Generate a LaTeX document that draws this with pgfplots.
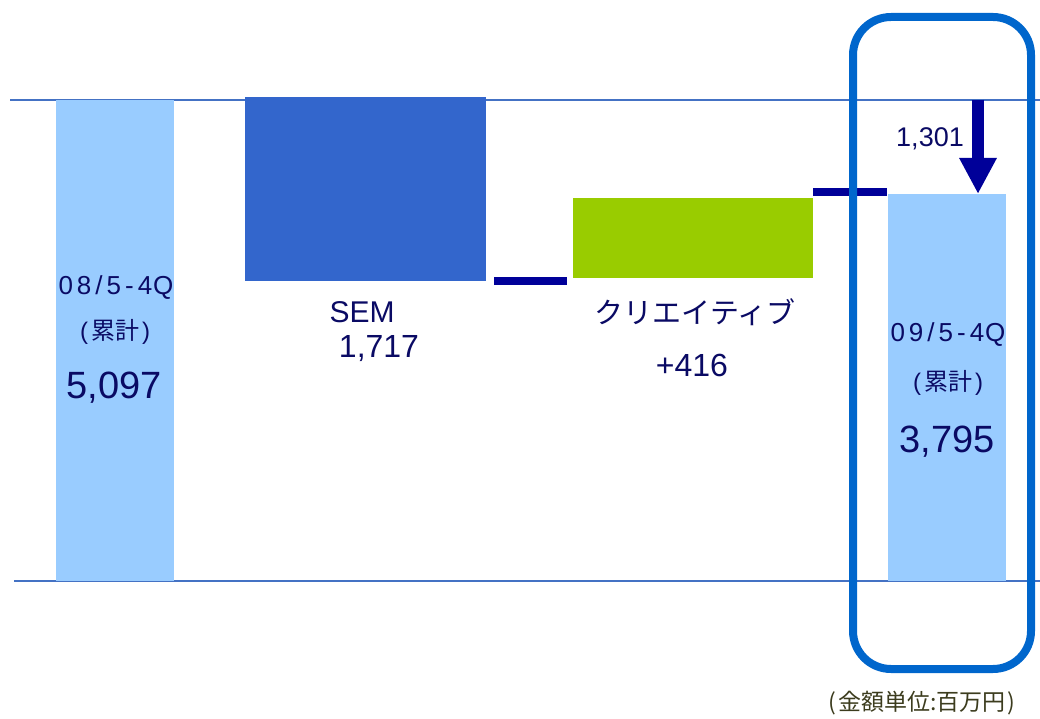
\documentclass[border=0pt]{standalone}
\usepackage{pgfplots}
\pgfplotsset{compat=1.18}
\usepackage{fontspec}
\setmainfont{Liberation Sans}
\newfontfamily\jp{Noto Sans CJK JP}
\usetikzlibrary{arrows.meta}
\definecolor{lightbar}{HTML}{99CCFF}
\definecolor{sembar}{HTML}{3366CC}
\definecolor{creabar}{HTML}{99CC00}
\definecolor{conn}{HTML}{000099}
\definecolor{frame}{HTML}{0066CC}
\definecolor{rule}{HTML}{4472C4}
\definecolor{txt}{RGB}{10,10,100}
\definecolor{unit}{RGB}{60,60,30}
\newcommand{\fs}[1]{\fontsize{#1}{#1}\selectfont}
\begin{document}
\begin{tikzpicture}
\begin{axis}[
  width=1040pt, height=718pt, scale only axis,
  xmin=0, xmax=1040, ymin=-137, ymax=581,
  hide axis, clip=false,
]
% reference lines
\addplot[rule, line width=2.5pt] coordinates {(10,481) (1040,481)};
\addplot[rule, line width=2.5pt] coordinates {(14,0) (1040,0)};
% bars (drawn heights in picture scale)
\addplot[fill=lightbar, draw=none] coordinates {(56,0) (174,0) (174,481) (56,481)} -- cycle;
\addplot[fill=sembar, draw=none] coordinates {(245,300) (486,300) (486,484) (245,484)} -- cycle;
\addplot[fill=creabar, draw=none] coordinates {(573,303) (813,303) (813,383) (573,383)} -- cycle;
\addplot[fill=lightbar, draw=none] coordinates {(888,0) (1006,0) (1006,387) (888,387)} -- cycle;
% connectors
\addplot[conn, line width=8pt] coordinates {(494,300) (567,300)};
\addplot[conn, line width=8pt] coordinates {(813,389) (887,389)};
% arrow
\addplot[conn, line width=12pt, -{Triangle[width=35pt,length=36pt]}] coordinates {(978,481) (978,387)};
% highlight frame
\addplot[frame, line width=8pt, rounded corners=38pt] coordinates {(853,564) (1031,564) (1031,-88) (853,-88)} -- cycle;
% labels
\node[txt, font=\fs{26}] at (axis cs:116,293) {0\kern4pt8\kern4pt/\kern4pt5\kern4pt-\kern4pt4\kern1ptQ};
\node[txt, font=\fs{24}] at (axis cs:115,249) {(\kern3pt{\jp 累計}\kern3pt)};
\node[txt, font=\fs{38}] at (axis cs:114,193) {5,097};
\node[txt, font=\fs{30}] at (axis cs:362,269) {SEM};
\node[txt, font=\fs{32}] at (axis cs:379,232) {1,717};
\node[txt, font=\fs{29}\jp] at (axis cs:695,269) {クリエイティブ};
\node[txt, font=\fs{32}] at (axis cs:692,216) {+416};
\node[txt, font=\fs{27}] at (axis cs:930,442) {1,301};
\node[txt, font=\fs{26}] at (axis cs:948,246) {0\kern4pt9\kern4pt/\kern4pt5\kern4pt-\kern4pt4\kern1ptQ};
\node[txt, font=\fs{24}] at (axis cs:948,198) {(\kern3pt{\jp 累計}\kern3pt)};
\node[txt, font=\fs{38}] at (axis cs:947,139) {3,795};
\node[unit, font=\fs{23}\jp] at (axis cs:922,-122) {(\kern2pt金額単位:百万円\kern2pt)};
\end{axis}
\pgfresetboundingbox
\useasboundingbox (current axis.south west) rectangle (current axis.north east);
\end{tikzpicture}
\end{document}
